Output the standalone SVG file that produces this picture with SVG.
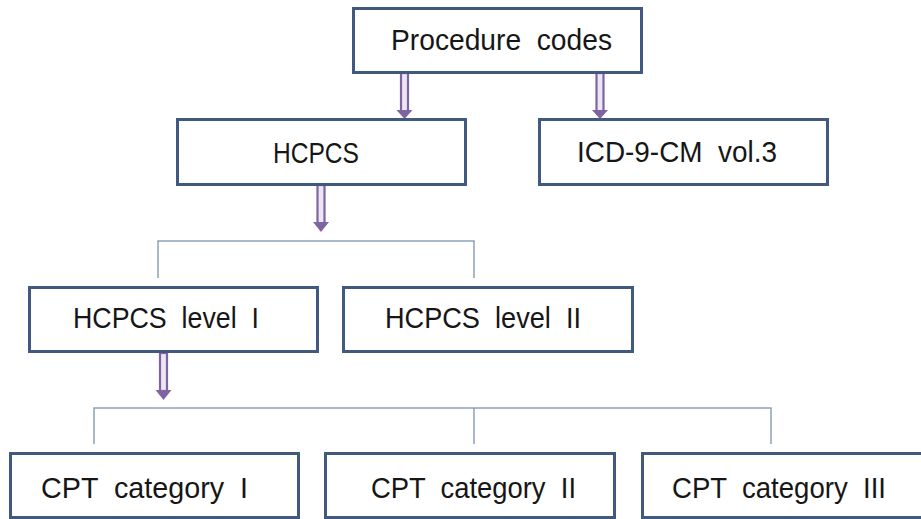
<svg xmlns="http://www.w3.org/2000/svg" width="921" height="519" viewBox="0 0 921 519">
  <style>
    .box { fill: #ffffff; stroke: #41597f; stroke-width: 3; }
    .label { font-family: "Liberation Sans", Arial, sans-serif; font-size: 30px; fill: #161616; white-space: pre; }
    .shaft { fill: #ece6f3; stroke: #8064a2; stroke-width: 2.2; }
    .head { fill: #8064a2; }
    .branch { fill: none; stroke: #8ea1bb; stroke-width: 1.5; }
  </style>
  <rect width="921" height="519" fill="#ffffff"/>

  <!-- connectors: hollow double-line arrows and bracket branches -->
  <g id="connectors">
    <g id="arrow-proc-hcpcs">
      <rect class="shaft" x="401" y="73" width="7" height="39"/>
      <polygon class="head" points="396.5,110 412.5,110 404.5,119"/>
    </g>
    <g id="arrow-proc-icd">
      <rect class="shaft" x="596.5" y="73" width="7" height="39"/>
      <polygon class="head" points="592,110 608,110 600,119"/>
    </g>
    <g id="arrow-hcpcs-levels">
      <rect class="shaft" x="317.5" y="185" width="7" height="39"/>
      <polygon class="head" points="313,222 329,222 321,232"/>
    </g>
    <g id="arrow-level1-cpt">
      <rect class="shaft" x="160" y="353" width="7" height="38"/>
      <polygon class="head" points="155.5,390 171.5,390 163.5,400"/>
    </g>
    <path id="branch-levels" class="branch" d="M158,278 V241 H474 V278"/>
    <path id="branch-cpt" class="branch" d="M94,444 V408 H771 V444 M474,408 V444"/>
  </g>

  <g id="node-procedure-codes">
    <rect class="box" x="353.5" y="8.5" width="288" height="64"/>
    <text class="label" x="391" y="50" textLength="221" lengthAdjust="spacingAndGlyphs" xml:space="preserve">Procedure  codes</text>
  </g>
  <g id="node-hcpcs">
    <rect class="box" x="177.5" y="119.5" width="288" height="65"/>
    <text class="label" x="273" y="163" textLength="86" lengthAdjust="spacingAndGlyphs">HCPCS</text>
  </g>
  <g id="node-icd9">
    <rect class="box" x="539.5" y="119.5" width="288" height="65"/>
    <text class="label" x="577" y="162" textLength="200" lengthAdjust="spacingAndGlyphs" xml:space="preserve">ICD-9-CM  vol.3</text>
  </g>
  <g id="node-hcpcs-level1">
    <rect class="box" x="29.5" y="287.5" width="288" height="64"/>
    <text class="label" x="73" y="328" textLength="186" lengthAdjust="spacingAndGlyphs" xml:space="preserve">HCPCS  level  I</text>
  </g>
  <g id="node-hcpcs-level2">
    <rect class="box" x="343.5" y="287.5" width="289" height="64"/>
    <text class="label" x="385" y="328" textLength="196" lengthAdjust="spacingAndGlyphs" xml:space="preserve">HCPCS  level  II</text>
  </g>
  <g id="node-cpt1">
    <rect class="box" x="10.5" y="453.5" width="288" height="64"/>
    <text class="label" x="41" y="498" textLength="207" lengthAdjust="spacingAndGlyphs" xml:space="preserve">CPT  category  I</text>
  </g>
  <g id="node-cpt2">
    <rect class="box" x="325.5" y="453.5" width="289" height="64"/>
    <text class="label" x="371" y="498" textLength="205" lengthAdjust="spacingAndGlyphs" xml:space="preserve">CPT  category  II</text>
  </g>
  <g id="node-cpt3">
    <rect class="box" x="642.5" y="453.5" width="290" height="64"/>
    <text class="label" x="672" y="498" textLength="214" lengthAdjust="spacingAndGlyphs" xml:space="preserve">CPT  category  III</text>
  </g>
</svg>
